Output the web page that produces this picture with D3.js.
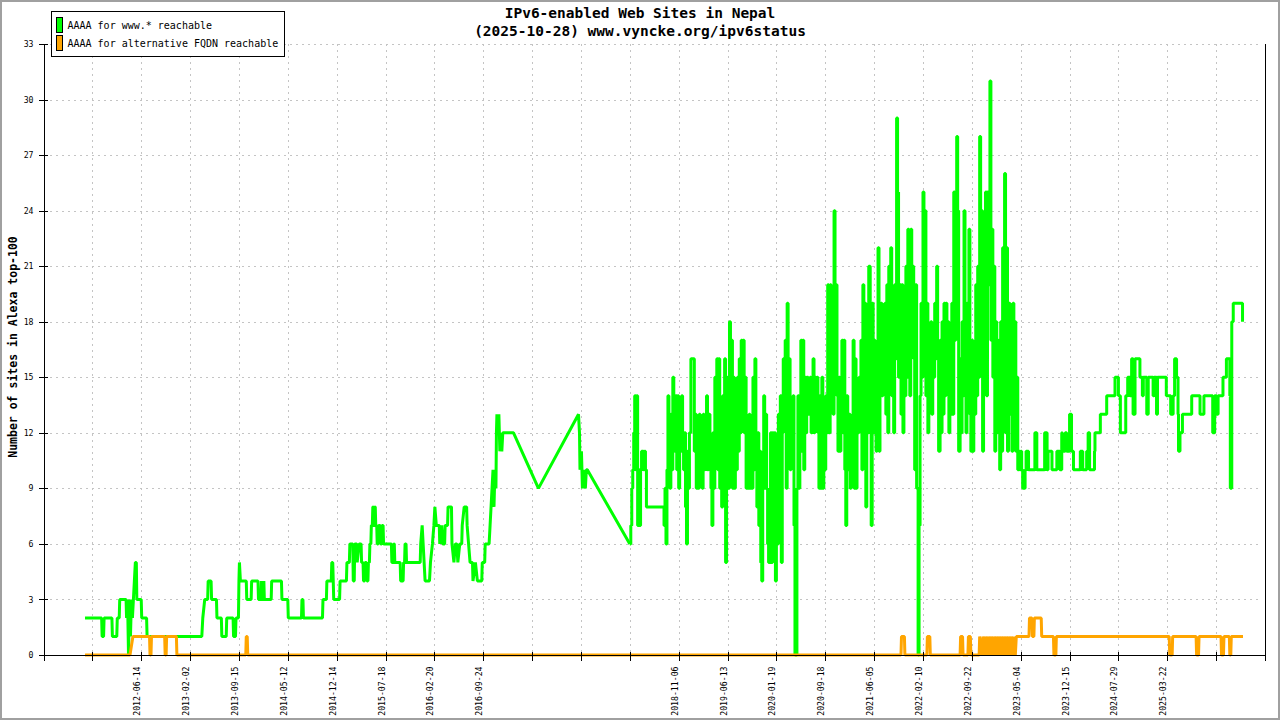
<!DOCTYPE html>
<html>
<head>
<meta charset="utf-8">
<script src="https://cdn.jsdelivr.net/npm/d3@7"></script>
<style>
  body { margin: 0; background: #fff; }
  svg { display: block; }
  text { font-family: "DejaVu Sans Mono", "Liberation Mono", monospace; }
</style>
</head>
<body>
<svg id="chart" width="1280" height="720"></svg>
<script>
// chart text
const titleLines = ['IPv6-enabled Web Sites in Nepal', '(2025-10-28) www.vyncke.org/ipv6status'];
const yTitle = 'Number of sites in Alexa top-100';
const seriesNames = ['AAAA for www.* reachable', 'AAAA for alternative FQDN reachable'];
const seriesColors = ['#00ff00', '#ffa500'];

// x axis: sample index, one label every 100 samples (blank where none shown)
const tickLabels = ['', '', '2012-06-14', '2013-02-02', '2013-09-15', '2014-05-12', '2014-12-14',
  '2015-07-18', '2016-02-20', '2016-09-24', '', '', '', '2018-11-06', '2019-06-13', '2020-01-19',
  '2020-09-18', '2021-06-05', '2022-02-10', '2022-09-22', '2023-05-04', '2023-12-15', '2024-07-29',
  '2025-03-22', '', ''];
const yTicks = [0, 3, 6, 9, 12, 15, 18, 21, 24, 27, 30, 33];

// www.* series, [sample, sites]
const wwwEarly = [[85,2],[119,2],[120,1],[123,1],[124,2],[140,2],[141,1],[150,1],[151,2],[155,2],[156,3],
  [169,3],[170,2],[172,3],[174,0],[176,3],[178,1],[180,3],[182,2],[184,3],[186,4],[188,5],[190,5],[191,3],
  [200,3],[201,2],[211,2],[212,1],[324,1],[326,2],[330,3],[336,3],[337,4],[343,4],[344,3],[354,3],[355,2],
  [364,2],[365,1],[374,1],[375,2],[388,2],[389,1],[393,1],[394,2],[399,2],[400,4],[401,5],[403,4],[415,4],
  [416,3],[425,3],[426,4],[439,4],[440,3],[445,3],[446,4],[447,3],[450,3],[451,4],[452,3],[466,3],[467,4],
  [487,4],[488,3],[500,3],[501,2],[528,2],[529,3],[531,3],[532,2],[571,2],[572,3],[579,3],[580,4],[589,4],
  [590,5],[592,5],[593,4],[594,3],[606,3],[607,4],[620,4],[621,5],[626,5],[627,6],[633,6],[634,4],[636,4],
  [637,6],[641,6],[642,5],[646,6],[650,6],[651,5],[654,5],[655,4],[657,4],[658,5],[661,5],[662,4],[664,4],
  [665,5],[667,5],[668,6],[670,6],[671,7],[673,7],[674,8],[675,8],[676,7],[677,7],[678,8],[679,8],[680,7],
  [682,7],[683,6],[685,6],[686,7],[689,7],[690,6],[692,6],[693,7],[695,7],[696,6],[712,6],[713,5],[716,5],
  [717,6],[718,6],[719,5],[730,5],[731,4],[736,4],[737,5],[739,5],[740,6],[742,6],[743,5],[770,5]];
const wwwSparse = [[771,5],[772,6],[775,7],[777,6],[779,5],[781,4],[790,4],[792,5],[796,6],[799,7],[801,8],
  [804,7],[810,7],[811,6],[815,7],[817,6],[821,6],[822,7],[827,7],[828,8],[835,8],[836,6],[840,5],[843,6],
  [846,6],[848,5],[852,6],[856,6],[857,7],[861,8],[866,8],[867,7],[870,6],[873,5],[878,5],[879,4],[884,5],
  [888,4],[897,4],[898,5],[903,5],[904,6],[912,6],[914,7],[916,8],[918,9],[920,10],[922,8],[924,10],[926,9],
  [927,12],[928,13],[931,12],[932,13],[934,11],[936,12],[938,11],[940,12],[962,12],[1013,9],[1095,13],
  [1097,12],[1098,10],[1101,11],[1103,9],[1107,10],[1109,9],[1111,10],[1113,10],[1200,6]];
const wwwBusy = [[1202,7],[1204,9],[1206,10],[1208,12],[1210,14],[1212,10],[1214,14],[1216,7],[1218,10],
  [1220,7],[1222,10],[1224,11],[1228,10],[1230,11],[1232,10],[1234,8],[1268,8],[1270,7],[1272,9],[1274,6],
  [1276,10],[1278,14],[1280,12],[1282,9],[1284,13],[1286,10],[1288,15],[1290,12],[1292,11],[1294,14],
  [1296,10],[1298,14],[1300,9],[1302,13],[1304,11],[1306,14],[1308,12],[1310,10],[1312,12],[1314,8],
  [1316,6],[1318,11],[1320,9],[1322,12],[1325,16],[1330,16],[1332,11],[1334,13],[1336,9],[1338,12],
  [1340,9],[1342,13],[1344,11],[1346,12],[1348,9],[1350,13],[1352,10],[1354,12],[1357,14],[1359,10],
  [1361,13],[1364,11],[1366,9],[1368,7],[1370,12],[1372,9],[1374,15],[1376,12],[1378,16],[1380,10],
  [1382,16],[1384,9],[1386,12],[1388,8],[1390,14],[1392,10],[1394,16],[1396,5],[1398,11],[1400,15],
  [1402,9],[1404,18],[1406,12],[1408,17],[1410,9],[1412,15],[1414,9],[1416,14],[1418,10],[1420,15],
  [1422,11],[1424,16],[1426,12],[1428,17],[1430,13],[1432,17],[1434,12],[1436,15],[1438,9],[1440,12],
  [1442,9],[1444,13],[1446,9],[1448,11],[1450,9],[1452,15],[1454,10],[1456,16],[1458,11],[1460,8],
  [1462,12],[1464,7],[1466,11],[1468,5],[1470,4],[1472,11],[1474,14],[1476,9],[1478,13],[1480,9],
  [1482,6],[1484,5],[1486,9],[1488,12],[1490,5],[1492,12],[1494,8],[1496,12],[1498,4],[1500,10],
  [1502,6],[1504,13],[1506,9],[1508,14],[1510,5],[1512,12],[1514,16],[1516,13],[1518,17],[1520,9],
  [1522,19],[1524,11],[1526,16],[1528,10],[1530,13],[1532,11],[1534,14],[1536,7],[1538,0],[1540,0],
  [1542,9],[1544,14],[1546,9],[1548,13],[1550,17],[1552,11],[1554,17],[1556,10],[1558,15],[1560,12],
  [1562,15],[1565,13],[1569,15],[1571,12],[1573,14],[1575,16],[1577,12],[1579,15],[1581,13],[1583,15],
  [1585,12],[1587,9],[1589,14],[1591,9],[1593,15],[1595,9],[1597,13],[1599,10],[1601,14],[1603,12],
  [1605,20],[1607,12],[1610,20],[1612,14],[1614,17],[1616,13],[1618,24],[1620,16],[1622,20],[1624,14],
  [1626,11],[1628,15],[1630,11],[1632,14],[1634,17],[1636,12],[1638,17],[1640,10],[1642,7],[1644,14],
  [1646,10],[1648,13],[1651,9],[1653,12],[1655,10],[1657,17],[1659,9],[1661,16],[1663,9],[1665,14],
  [1667,12],[1669,15],[1671,13],[1673,17],[1675,10],[1677,20],[1679,12],[1681,19],[1683,8],[1685,18],
  [1687,12],[1689,21],[1692,15],[1694,7],[1696,19],[1698,12],[1700,17],[1702,15],[1704,11],[1706,17],
  [1708,22],[1710,11],[1712,17],[1714,19],[1716,14],[1718,18],[1720,15],[1722,19],[1724,13],[1726,20],
  [1728,12],[1730,21],[1732,17],[1734,22],[1736,14],[1738,19],[1740,12],[1742,20],[1744,16],[1746,29],
  [1748,25],[1750,15],[1753,20],[1755,13],[1757,20],[1759,12],[1761,17],[1763,14],[1765,21],[1767,15],
  [1769,23],[1771,16],[1773,14],[1775,23],[1777,17],[1779,21],[1781,16],[1783,10],[1785,20],[1787,9],
  [1790,0],[1792,7],[1794,14],[1796,19],[1798,15],[1800,25],[1802,17],[1804,24],[1806,14],[1808,19],
  [1810,12],[1812,17],[1814,14],[1816,18],[1818,13],[1820,17],[1822,15],[1824,19],[1826,16],[1828,21],
  [1830,17],[1832,11],[1835,17],[1837,12],[1839,18],[1841,13],[1843,19],[1845,14],[1847,19],[1849,15],
  [1851,18],[1853,12],[1855,17],[1857,13],[1859,19],[1861,13],[1863,25],[1865,17],[1867,21],[1869,28],
  [1871,24],[1873,11],[1876,16],[1878,12],[1880,18],[1882,14],[1884,24],[1886,16],[1888,12],[1890,19],
  [1892,15],[1894,23],[1896,13],[1898,11],[1900,17],[1902,11],[1904,16],[1906,13],[1908,20],[1910,14],
  [1912,21],[1914,15],[1916,28],[1918,18],[1920,24],[1922,11],[1924,19],[1926,22],[1928,25],[1930,14],
  [1932,25],[1934,20],[1937,31],[1939,17],[1941,23],[1943,15],[1945,21],[1947,11],[1949,18],[1951,12],
  [1953,14],[1955,17],[1957,10],[1959,18],[1961,11],[1963,22],[1965,14],[1967,26],[1969,12],[1971,22],
  [1973,11],[1975,19],[1978,13],[1980,17],[1982,11],[1984,19],[1986,13],[1988,18],[1990,11],[1992,15],
  [1994,10],[1996,11],[1998,10],[2000,11],[2002,10],[2004,9]];
const wwwLate = [[2008,9],[2009,10],[2011,11],[2015,11],[2016,10],[2028,10],[2029,12],[2032,12],[2033,10],
  [2048,10],[2049,12],[2053,12],[2054,10],[2056,11],[2063,11],[2064,10],[2073,10],[2074,11],[2079,11],
  [2080,10],[2083,10],[2084,12],[2085,11],[2090,11],[2091,12],[2093,12],[2094,11],[2099,11],[2100,13],
  [2103,13],[2104,11],[2107,11],[2108,10],[2121,10],[2122,11],[2126,11],[2127,10],[2134,10],[2135,11],
  [2137,11],[2138,12],[2140,12],[2141,10],[2150,10],[2151,11],[2152,12],[2162,12],[2163,13],[2175,13],
  [2176,14],[2192,14],[2193,15],[2199,15],[2200,14],[2203,14],[2204,12],[2214,12],[2215,14],[2218,14],
  [2219,15],[2223,15],[2224,14],[2226,14],[2227,16],[2229,16],[2230,13],[2233,13],[2234,16],[2243,16],
  [2244,15],[2248,15],[2249,14],[2251,15],[2257,15],[2258,13],[2260,13],[2261,15],[2270,15],[2271,14],
  [2273,15],[2277,15],[2278,13],[2280,15],[2297,15],[2298,14],[2306,14],[2307,13],[2311,13],[2312,14],
  [2314,14],[2315,16],[2318,16],[2319,15],[2321,15],[2322,13],[2323,11],[2325,11],[2326,12],[2330,12],
  [2331,13],[2349,13],[2350,14],[2366,14],[2367,13],[2374,13],[2375,14],[2392,14],[2393,12],[2396,12],
  [2397,14],[2400,14],[2401,13],[2403,13],[2404,14],[2413,14],[2414,15],[2420,15],[2421,16],[2427,16],
  [2428,14],[2429,9],[2431,9],[2432,18],[2434,18],[2435,19],[2453,19],[2454,18]];

// alternative FQDN series, [sample, sites]
const altFqdn = [[85,0],[177,0],[183,1],[217,1],[218,0],[220,0],[221,1],[248,1],[249,0],[251,0],[252,1],
  [272,1],[273,0],[414,0],[415,1],[417,1],[418,0],[1755,0],[1756,1],[1762,1],[1763,0],[1808,0],[1809,1],
  [1814,1],[1815,0],[1876,0],[1877,1],[1881,1],[1882,0],[1892,0],[1893,1],[1897,1],[1898,0],[1915,0],
  [1916,1],[1921,0],[1923,1],[1927,0],[1929,1],[1933,0],[1935,1],[1938,0],[1940,1],[1944,0],[1946,1],
  [1949,0],[1951,1],[1954,0],[1956,1],[1959,0],[1961,1],[1964,0],[1966,1],[1969,0],[1971,1],[1974,0],
  [1976,1],[1979,0],[1981,1],[1984,0],[1986,1],[1989,0],[1991,1],[2017,1],[2018,2],[2023,2],[2024,1],
  [2027,1],[2028,2],[2042,2],[2043,1],[2067,1],[2068,0],[2072,0],[2073,1],[2304,1],[2305,0],[2310,0],
  [2311,1],[2359,1],[2360,0],[2364,0],[2365,1],[2410,1],[2411,0],[2415,0],[2416,1],[2427,1],[2428,0],
  [2430,0],[2431,1],[2455,1]];

const tickValues = tickLabels.map((_, i) => i * 100);

const svg = d3.select('#chart');
const W = 1280, H = 720;
const x = d3.scaleLinear().domain([0, tickValues[tickValues.length - 1]]).range([43.5, 1265]);
const y = d3.scaleLinear().domain([0, 33]).range([655, 44]);

svg.append('rect').attr('x', 1).attr('y', 1).attr('width', W - 2).attr('height', H - 2)
  .attr('fill', '#fff').attr('stroke', '#a0a0a0').attr('stroke-width', 2);

// grid
const grid = svg.append('g').attr('stroke', '#c4c4c4').attr('stroke-width', 1)
  .attr('stroke-dasharray', '2,4').attr('shape-rendering', 'crispEdges');
grid.selectAll('.hg').data(yTicks.slice(1)).join('line')
  .attr('x1', x(0)).attr('x2', x.range()[1] - 3)
  .attr('y1', d => Math.round(y(d)) + 0.5).attr('y2', d => Math.round(y(d)) + 0.5);
grid.selectAll('.vg').data(tickValues.slice(1, -1)).join('line')
  .attr('x1', d => Math.round(x(d)) + 0.5).attr('x2', d => Math.round(x(d)) + 0.5)
  .attr('y1', y(33)).attr('y2', y(0));

// series: daily samples are drawn as steps, the sparse 2017 stretch as straight joins
const lineOf = curve => d3.line().x(d => x(d[0])).y(d => y(d[1])).curve(curve);
const greenParts = [
  { data: wwwEarly.concat(wwwSparse), curve: d3.curveLinear },
  { data: wwwSparse.slice(-1).concat(wwwBusy, wwwLate), curve: d3.curveStepAfter }
];
greenParts.forEach(p => {
  svg.append('path').datum(p.data).attr('d', lineOf(p.curve))
    .attr('fill', 'none').attr('stroke', seriesColors[0])
    .attr('stroke-width', 3).attr('stroke-linejoin', 'bevel');
});
svg.append('path').datum(altFqdn).attr('d', lineOf(d3.curveLinear))
  .attr('fill', 'none').attr('stroke', seriesColors[1])
  .attr('stroke-width', 3).attr('stroke-linejoin', 'bevel');

// axes
const yAxis = d3.axisLeft(y).tickValues(yTicks).tickSizeInner(5).tickSizeOuter(0).tickPadding(5);
const gy = svg.append('g').attr('transform', `translate(${x(0)},0)`).call(yAxis);
gy.selectAll('.tick').append('line').attr('x2', 4).attr('stroke', '#000');
gy.select('.domain').attr('d', `M0.5,${y(33)}V${y(0) + 6}`);

const xAxis = d3.axisBottom(x).tickValues(tickValues).tickSizeInner(6).tickSizeOuter(0)
  .tickFormat((d, i) => tickLabels[i]);
const gx = svg.append('g').attr('transform', `translate(0,${y(0)})`).call(xAxis);
gx.selectAll('.tick').append('line').attr('y2', -3).attr('stroke', '#000');
gx.select('.domain').attr('d', `M${x(0) - 5},0.5H${x.range()[1]}`);
gx.selectAll('.tick text')
  .attr('transform', 'rotate(-90)').attr('text-anchor', 'end')
  .attr('x', -11.5).attr('y', -1.5).attr('dy', 0);

[gx, gy].forEach(g => {
  g.selectAll('text').attr('font-family', '"DejaVu Sans Mono", monospace').attr('font-size', 8.2).attr('fill', '#000');
  g.selectAll('line, path').attr('stroke', '#000').attr('shape-rendering', 'crispEdges');
});

// right frame edge
svg.append('line').attr('x1', x.range()[1] + 0.5).attr('x2', x.range()[1] + 0.5)
  .attr('y1', y(33)).attr('y2', y(0)).attr('stroke', '#000').attr('shape-rendering', 'crispEdges');

// titles
svg.selectAll('.title').data(titleLines).join('text')
  .attr('x', 640).attr('y', (d, i) => 18.3 + i * 18)
  .attr('text-anchor', 'middle').attr('font-size', 14.5).attr('font-weight', 'bold')
  .text(d => d);
svg.append('text')
  .attr('transform', `translate(17,347) rotate(-90)`)
  .attr('text-anchor', 'middle').attr('font-size', 11.5).attr('font-weight', 'bold')
  .text(yTitle);

// legend
const lg = svg.append('g');
lg.append('rect').attr('x', 51.5).attr('y', 11.5).attr('width', 233).attr('height', 45)
  .attr('fill', '#fff').attr('stroke', '#000');
seriesNames.forEach((name, i) => {
  lg.append('rect').attr('x', 56.5).attr('y', 17.5 + i * 18).attr('width', 6).attr('height', 15)
    .attr('fill', seriesColors[i]).attr('stroke', '#000');
  lg.append('text').attr('x', 67.5).attr('y', 29 + i * 18)
    .attr('font-size', 10).text(name);
});
</script>
</body>
</html>
